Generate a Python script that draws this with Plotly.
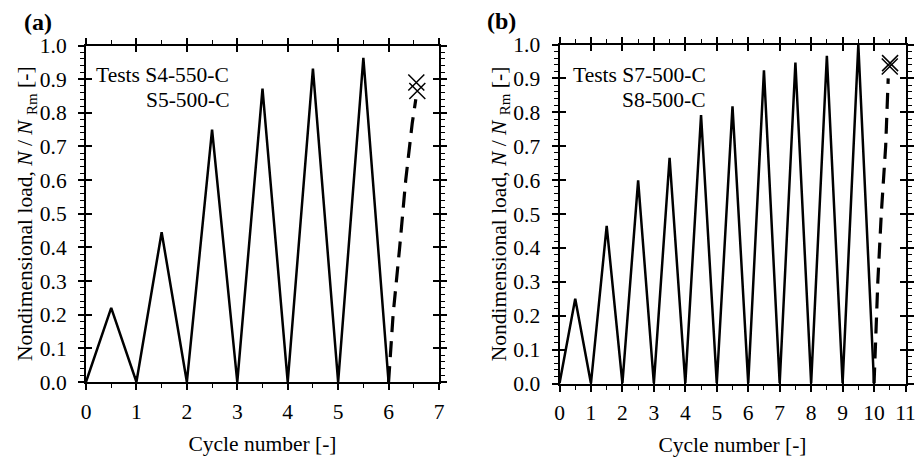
import plotly.graph_objects as go

# ---- data ----
cyc_a = [0, 0.5, 1, 1.5, 2, 2.5, 3, 3.5, 4, 4.5, 5, 5.5, 6]
load_a = [0, 0.22, 0, 0.445, 0, 0.75, 0, 0.872, 0, 0.931, 0, 0.963, 0]
dash_a_x = [6.0, 6.09, 6.22, 6.34, 6.47, 6.54]
dash_a_y = [0.0, 0.2, 0.4, 0.6, 0.77, 0.84]
fail_a_x = [6.55, 6.57]
fail_a_y = [0.89, 0.865]

cyc_b = [0, 0.5, 1, 1.5, 2, 2.5, 3, 3.5, 4, 4.5, 5, 5.5, 6, 6.5, 7, 7.5, 8, 8.5, 9, 9.5, 10]
load_b = [0, 0.25, 0, 0.465, 0, 0.599, 0, 0.666, 0, 0.792, 0, 0.818, 0, 0.924, 0, 0.947, 0, 0.967, 0, 1.0, 0]
dash_b_x = [10.0, 10.12, 10.23, 10.37, 10.45]
dash_b_y = [0.0, 0.3, 0.5, 0.7, 0.9]
fail_b_x = [10.51, 10.5]
fail_b_y = [0.945, 0.935]

label_a = "Tests S4-550-C"
label_a2 = "S5-500-C"
label_b = "Tests S7-500-C"
label_b2 = "S8-500-C"

FONT = "Liberation Serif, Times New Roman, serif"
FS = 21.5

fig = go.Figure()

def add_panel(xs, ys, dx, dy, fx, fy, xa, ya):
    fig.add_trace(go.Scatter(x=xs, y=ys, mode="lines", line=dict(color="black", width=2.5),
                             xaxis=xa, yaxis=ya, showlegend=False, cliponaxis=False))
    fig.add_trace(go.Scatter(x=dx, y=dy, mode="lines", line=dict(color="black", width=3.2, dash="16px,9px"),
                             xaxis=xa, yaxis=ya, showlegend=False, cliponaxis=False))
    fig.add_trace(go.Scatter(x=fx, y=fy, mode="markers",
                             marker=dict(symbol="x-thin-open", size=16, color="black",
                                         line=dict(color="black", width=1.5)),
                             xaxis=xa, yaxis=ya, showlegend=False, cliponaxis=False))

add_panel(cyc_a, load_a, dash_a_x, dash_a_y, fail_a_x, fail_a_y, "x", "y")
add_panel(cyc_b, load_b, dash_b_x, dash_b_y, fail_b_x, fail_b_y, "x2", "y2")
# invisible traces for the overlay (inner major tick) axes
fig.add_trace(go.Scatter(x=[0], y=[0], mode="markers", marker=dict(opacity=0), xaxis="x3", yaxis="y3",
                         showlegend=False, hoverinfo="skip"))
fig.add_trace(go.Scatter(x=[0], y=[0], mode="markers", marker=dict(opacity=0), xaxis="x4", yaxis="y4",
                         showlegend=False, hoverinfo="skip"))

tickfont = dict(family=FONT, size=FS, color="black")

def xax(dom, rng, anchor, title):
    return dict(domain=dom, range=rng, anchor=anchor, dtick=1, tick0=0, automargin=False,
                ticks="outside", ticklen=6, tickwidth=1.5, tickcolor="black", ticklabelstandoff=3,
                minor=dict(dtick=0.5, tick0=0, ticks="outside", ticklen=4, tickwidth=1.2, tickcolor="black"),
                showline=True, linewidth=2, linecolor="black", mirror="allticks",
                showgrid=False, zeroline=False, tickfont=tickfont,
                title=dict(text=title, font=dict(family=FONT, size=FS, color="black"), standoff=13))

def yax(dom, anchor, title):
    return dict(domain=dom, range=[0, 1], anchor=anchor, dtick=0.1, tick0=0, tickformat=".1f",
                automargin=False, ticklabelstandoff=7,
                ticks="outside", ticklen=6, tickwidth=1.5, tickcolor="black",
                minor=dict(dtick=0.02, tick0=0, ticks="outside", ticklen=4, tickwidth=1.2, tickcolor="black"),
                showline=True, linewidth=2, linecolor="black", mirror="allticks",
                showgrid=False, zeroline=False, tickfont=tickfont,
                title=dict(text=title, font=dict(family=FONT, size=FS, color="black"), standoff=1))

def xin(dom, rng, anchor, over):
    return dict(domain=dom, range=rng, anchor=anchor, overlaying=over, dtick=1, tick0=0, automargin=False,
                ticks="inside", ticklen=6, tickwidth=1.5, tickcolor="black", mirror="allticks",
                showline=False, showgrid=False, zeroline=False, showticklabels=False)

def yin(dom, anchor, over):
    return dict(domain=dom, range=[0, 1], anchor=anchor, overlaying=over, dtick=0.1, tick0=0, automargin=False,
                ticks="inside", ticklen=6, tickwidth=1.5, tickcolor="black", mirror="allticks",
                showline=False, showgrid=False, zeroline=False, showticklabels=False)

ytitle = "Nondimensional load, <i>N</i> / <i>N</i> <sub>Rm</sub> [-]"
xda = [86 / 921, 439 / 921]
yda = [1 - 382 / 460, 1 - 45.5 / 460]
xdb = [559.5 / 921, 905.5 / 921]
ydb = [1 - 383.5 / 460, 1 - 44.5 / 460]

fig.update_layout(
    width=921, height=460,
    margin=dict(l=0, r=0, t=0, b=0, autoexpand=False),
    paper_bgcolor="white", plot_bgcolor="white",
    font=dict(family=FONT, size=FS, color="black"),
    xaxis=xax(xda, [0, 7], "y", "Cycle number [-]"),
    yaxis=yax(yda, "x", ytitle),
    xaxis2=xax(xdb, [0, 11], "y2", "Cycle number [-]"),
    yaxis2=yax(ydb, "x2", ytitle),
    xaxis3=xin(xda, [0, 7], "y3", "x"),
    yaxis3=yin(yda, "x3", "y"),
    xaxis4=xin(xdb, [0, 11], "y4", "x2"),
    yaxis4=yin(ydb, "x4", "y2"),
)

def ann(text, x, y, xanchor="left", bold=False, size=FS):
    fig.add_annotation(text=("<b>%s</b>" % text) if bold else text, x=x, y=y, xref="paper", yref="paper",
                       xanchor=xanchor, yanchor="middle", showarrow=False,
                       font=dict(family=FONT, size=size, color="black"))

ann("(a)", 22 / 921, 1 - 22 / 460, bold=True, size=24)
ann("(b)", 485 / 921, 1 - 21 / 460, bold=True, size=24)
ann(label_a, 94 / 921, 1 - 74.5 / 460)
ann(label_a2, 232 / 921, 1 - 99.5 / 460, xanchor="right")
ann(label_b, 571 / 921, 1 - 74.5 / 460)
ann(label_b2, 708 / 921, 1 - 100 / 460, xanchor="right")

fig.write_html("out.html", config={"displayModeBar": False},
               post_script="document.body.style.margin='0';document.body.style.padding='0';")
